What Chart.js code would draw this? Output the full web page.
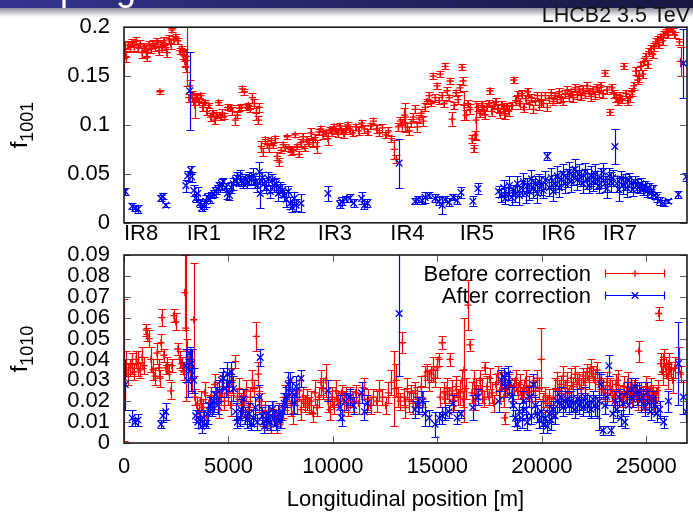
<!DOCTYPE html>
<html><head><meta charset="utf-8">
<script src="https://cdn.jsdelivr.net/npm/chart.js@4/dist/chart.umd.min.js"></script>
<style>
html,body{margin:0;padding:0;background:#fff;}
#wrap{position:relative;width:693px;height:513px;overflow:hidden;background:#fff;}
#top{position:absolute;left:0;top:0;}
#bot{position:absolute;left:0;top:225px;}
</style></head><body>
<div id="wrap"><canvas id="top" width="693" height="250"></canvas><canvas id="bot" width="693" height="288"></canvas></div>
<script>
// ---------- axis ticks / labels ----------
const xMax = 26950;
const xTicks = [0, 5000, 10000, 15000, 20000, 25000];
const xTickLabels = ['0', '5000', '10000', '15000', '20000', '25000'];
const topYTicks = [0, 0.05, 0.1, 0.15, 0.2];
const topYLabels = ['0', '0.05', '0.1', '0.15', '0.2'];
const botYTicks = [0, 0.01, 0.02, 0.03, 0.04, 0.05, 0.06, 0.07, 0.08, 0.09];
const botYLabels = ['0', '0.01', '0.02', '0.03', '0.04', '0.05', '0.06', '0.07', '0.08', '0.09'];
const irNames = ['IR8', 'IR1', 'IR2', 'IR3', 'IR4', 'IR5', 'IR6', 'IR7'];
const irPos = [0, 3000, 6100, 9280, 12750, 16070, 19970, 22920];
const seriesNames = ['Before correction', 'After correction'];
const xTitle = 'Longitudinal position [m]';
const plotTitle = 'LHCB2 3.5 TeV';

// ---------- before correction (red) ----------
const sBefore = [10,60,105,200,295,390,485,580,675,770,865,960,1055,1100,1200,1290,1390,1480,1580,1670,1720,1770,1815,1910,2005,2050,2150,2240,2290,2385,2480,2575,2670,2765,2810,2860,2910,2955,3000,3100,3150,3240,3335,3385,3480,3575,3670,3765,3860,3955,4050,4145,4240,4335,4430,4525,4620,4715,4810,4955,5100,5190,5335,5430,5525,5620,5670,5765,5860,5955,6050,6145,6240,6335,6430,6480,6575,6670,6765,6860,6955,7050,7145,7240,7335,7430,7525,7620,7715,7810,7905,8000,8095,8190,8285,8380,8475,8570,8665,8760,8855,8950,9045,9140,9235,9330,9425,9520,9665,9760,9855,9950,10045,10140,10235,10330,10420,10520,10610,10710,10800,10950,11090,11230,11370,11510,11660,11800,11940,12090,12230,12370,12520,12660,12800,12945,13040,13135,13230,13325,13420,13470,13565,13660,13755,13850,13945,14040,14135,14230,14325,14420,14515,14610,14705,14800,14895,14990,15085,15135,15230,15325,15375,15470,15565,15610,15705,15800,15895,15990,16085,16180,16230,16275,16370,16465,16560,16655,16750,16800,16845,16940,17035,17130,17225,17275,17370,17465,17510,17605,17700,17795,17890,17985,18080,18175,18220,18315,18410,18555,18650,18745,18840,18935,19030,19125,19220,19315,19410,19505,19600,19695,19790,19885,19980,20075,20170,20265,20360,20455,20550,20645,20740,20835,20930,21025,21120,21215,21310,21405,21500,21595,21690,21785,21880,21975,22070,22165,22260,22355,22450,22545,22640,22735,22830,22925,23020,23115,23260,23355,23450,23545,23640,23735,23830,23925,24020,24115,24210,24305,24400,24495,24590,24640,24735,24830,24880,24975,25070,25115,25210,25305,25355,25450,25545,25590,25685,25780,25830,25925,26020,26070,26165,26260,26355,26590,26640];
const f1001Before = [.168,.178,.170,.182,.180,.184,.181,.186,.179,.183,.174,.180,.176,.170,.182,.178,.183,.180,.185,.176,.134,.182,.180,.186,.179,.174,.188,.183,.197,.187,.190,.186,.176,.178,.172,.175,.165,.160,.170,.128,.140,.130,.124,.120,.128,.124,.130,.118,.123,.114,.120,.108,.112,.105,.110,.123,.108,.112,.109,.118,.117,.114,.105,.110,.117,.118,.137,.134,.118,.120,.116,.128,.122,.112,.105,.118,.078,.072,.085,.080,.076,.084,.079,.086,.068,.062,.074,.080,.077,.088,.076,.072,.074,.090,.078,.070,.082,.088,.076,.085,.082,.092,.082,.087,.078,.093,.096,.090,.092,.086,.095,.093,.098,.094,.092,.099,.094,.091,.096,.100,.095,.092,.098,.094,.102,.096,.093,.099,.104,.096,.092,.097,.090,.094,.086,.075,.065,.098,.104,.100,.110,.108,.098,.094,.102,.108,.116,.098,.106,.112,.104,.118,.124,.130,.122,.150,.128,.140,.125,.152,.130,.122,.160,.135,.128,.145,.106,.120,.133,.126,.138,.159,.145,.120,.110,.122,.116,.086,.076,.090,.105,.118,.112,.120,.115,.110,.118,.122,.135,.114,.120,.124,.117,.112,.121,.116,.110,.119,.114,.120,.146,.125,.130,.122,.132,.118,.127,.134,.121,.128,.116,.124,.130,.120,.126,.122,.130,.118,.127,.133,.124,.130,.126,.134,.128,.124,.132,.136,.129,.134,.128,.138,.131,.136,.130,.137,.132,.140,.134,.129,.136,.131,.138,.134,.140,.132,.153,.136,.113,.138,.132,.128,.124,.130,.126,.160,.132,.125,.128,.134,.140,.155,.146,.150,.160,.152,.165,.170,.162,.175,.178,.172,.180,.185,.188,.182,.190,.186,.193,.195,.192,.197,.198,.196,.192,.185,.165];
const f1001BeforeErr = [.018,.008,.006,.004,.005,.004,.005,.004,.004,.004,.005,.004,.006,.005,.004,.004,.004,.004,.004,.004,.002,.005,.005,.004,.004,.004,.004,.005,.002,.004,.003,.003,.003,.003,.005,.003,.006,.006,.030,.004,.006,.005,.004,.013,.004,.004,.003,.004,.003,.004,.003,.004,.003,.004,.003,.003,.003,.004,.003,.003,.003,.004,.005,.003,.003,.003,.003,.003,.003,.003,.003,.005,.005,.007,.004,.005,.006,.004,.003,.004,.004,.003,.003,.003,.004,.004,.003,.003,.004,.002,.003,.003,.004,.002,.003,.003,.004,.004,.003,.004,.003,.005,.004,.004,.007,.003,.003,.004,.003,.006,.003,.004,.003,.003,.004,.003,.003,.004,.003,.003,.004,.003,.003,.004,.003,.004,.003,.003,.003,.004,.003,.004,.003,.004,.003,.010,.004,.004,.004,.006,.007,.015,.004,.004,.004,.004,.004,.005,.004,.004,.005,.004,.003,.004,.003,.003,.004,.003,.004,.003,.004,.004,.003,.004,.003,.003,.007,.004,.003,.005,.004,.003,.004,.015,.005,.004,.005,.004,.004,.004,.020,.004,.004,.005,.004,.004,.004,.004,.003,.005,.004,.004,.004,.005,.004,.004,.004,.004,.005,.004,.003,.005,.005,.006,.004,.005,.004,.004,.005,.004,.004,.004,.004,.005,.008,.004,.004,.004,.004,.004,.004,.003,.004,.004,.004,.004,.004,.004,.004,.003,.004,.004,.004,.004,.004,.004,.004,.004,.004,.004,.004,.004,.004,.005,.004,.004,.003,.004,.003,.004,.004,.004,.004,.004,.004,.003,.004,.005,.004,.004,.004,.004,.004,.006,.004,.004,.004,.004,.004,.004,.004,.004,.004,.004,.003,.003,.003,.004,.003,.003,.003,.002,.002,.003,.003,.003,.015];
const f1010Before = [.035,.030,.038,.033,.036,.038,.034,.040,.038,.035,.041,.037,.054,.052,.050,.040,.035,.032,.043,.036,.031,.048,.060,.042,.036,.037,.034,.025,.037,.061,.058,.045,.040,.038,.036,.034,.072,.055,.044,.040,.035,.030,.059,.022,.018,.015,.020,.017,.024,.013,.019,.022,.018,.028,.024,.016,.022,.027,.020,.024,.018,.030,.039,.022,.026,.020,.018,.022,.025,.016,.022,.030,.026,.051,.033,.020,.018,.012,.015,.010,.013,.008,.016,.012,.009,.014,.011,.017,.022,.019,.025,.018,.014,.022,.020,.025,.016,.022,.019,.021,.018,.020,.014,.024,.017,.022,.029,.026,.030,.020,.016,.022,.018,.025,.021,.019,.024,.020,.023,.018,.022,.020,.024,.019,.023,.026,.021,.018,.022,.020,.025,.022,.018,.024,.029,.026,.030,.022,.020,.048,.022,.017,.026,.020,.024,.019,.025,.022,.018,.027,.021,.032,.034,.030,.033,.035,.031,.036,.040,.022,.048,.024,.021,.026,.023,.040,.025,.020,.027,.022,.024,.030,.021,.035,.026,.066,.047,.024,.029,.020,.026,.023,.030,.025,.021,.036,.027,.022,.031,.024,.019,.028,.033,.025,.030,.022,.012,.026,.028,.024,.027,.030,.025,.028,.023,.026,.030,.024,.027,.022,.029,.025,.031,.026,.040,.020,.022,.019,.021,.018,.022,.026,.030,.025,.028,.032,.026,.029,.024,.031,.027,.033,.028,.030,.026,.032,.029,.034,.031,.036,.033,.030,.035,.028,.030,.026,.024,.029,.027,.025,.022,.028,.030,.024,.021,.027,.023,.029,.025,.022,.026,.024,.021,.044,.025,.022,.020,.027,.023,.021,.026,.024,.020,.023,.025,.062,.038,.034,.041,.036,.032,.038,.035,.030,.036,.040,.033];
const f1010BeforeErr = [.034,.010,.006,.005,.004,.005,.004,.004,.006,.004,.005,.004,.003,.003,.004,.006,.005,.004,.005,.004,.004,.004,.004,.003,.003,.004,.004,.004,.003,.003,.004,.003,.004,.003,.003,.004,.018,.035,.006,.004,.005,.006,.027,.004,.004,.004,.005,.004,.005,.004,.004,.005,.004,.005,.005,.004,.004,.005,.004,.006,.005,.006,.003,.004,.005,.004,.005,.004,.005,.004,.005,.005,.004,.007,.006,.005,.006,.004,.005,.004,.005,.003,.004,.004,.004,.005,.004,.005,.006,.005,.005,.005,.005,.004,.006,.005,.005,.005,.004,.005,.004,.005,.004,.006,.004,.005,.006,.005,.008,.005,.005,.005,.004,.005,.004,.005,.004,.005,.004,.005,.005,.005,.004,.005,.004,.005,.005,.004,.004,.005,.005,.004,.004,.005,.006,.018,.008,.005,.004,.005,.004,.005,.005,.005,.004,.005,.004,.005,.004,.005,.004,.005,.004,.005,.004,.006,.004,.005,.003,.005,.003,.005,.004,.005,.004,.003,.005,.004,.005,.004,.006,.005,.004,.025,.005,.012,.003,.005,.006,.004,.005,.005,.005,.006,.004,.003,.005,.004,.005,.005,.004,.005,.004,.005,.004,.005,.003,.004,.005,.004,.004,.005,.004,.005,.004,.004,.005,.004,.005,.005,.004,.005,.004,.005,.015,.004,.005,.004,.005,.004,.004,.005,.004,.005,.004,.005,.004,.005,.004,.005,.004,.004,.005,.004,.005,.004,.005,.004,.005,.004,.004,.005,.004,.005,.004,.005,.004,.005,.004,.005,.004,.005,.005,.004,.004,.005,.004,.005,.004,.005,.004,.004,.005,.005,.004,.005,.004,.005,.004,.004,.005,.004,.005,.004,.005,.003,.005,.006,.004,.005,.006,.005,.004,.006,.005,.006,.004];

// ---------- after correction (blue) ----------
const sAfter = [60,390,530,670,1770,1860,2000,2960,3050,3140,3190,3240,3340,3430,3530,3620,3720,3810,3910,4000,4100,4190,4290,4380,4480,4570,4670,4760,4860,4950,5050,5140,5240,5340,5430,5530,5620,5720,5810,5910,6000,6100,6190,6290,6380,6480,6520,6620,6720,6810,6910,7000,7100,7200,7290,7390,7480,7580,7670,7770,7860,7960,8050,8150,8240,8470,9760,10330,10420,10610,10800,10990,11370,11510,11650,13170,13930,14080,14270,14410,14600,14890,15080,15230,15370,15560,15750,15940,16130,16700,16940,17930,18070,18170,18260,18360,18450,18550,18640,18740,18830,18930,19030,19120,19220,19310,19410,19500,19600,19690,19790,19880,19980,20070,20170,20260,20360,20450,20550,20640,20740,20830,20930,21020,21120,21210,21310,21400,21500,21590,21690,21780,21880,21980,22070,22170,22260,22360,22450,22550,22640,22740,22830,22930,23020,23120,23210,23310,23400,23500,23590,23690,23780,23880,23970,24070,24160,24260,24350,24450,24540,24640,24730,24830,24920,25020,25110,25210,25300,25400,25500,25640,25830,26060,26540,26780,26920];
const f1001After = [.032,.017,.015,.014,.025,.027,.018,.038,.048,.135,.054,.047,.033,.025,.030,.020,.015,.018,.022,.026,.024,.028,.030,.033,.035,.038,.040,.042,.036,.030,.028,.036,.040,.044,.046,.048,.043,.040,.045,.041,.046,.044,.048,.042,.038,.052,.030,.046,.040,.036,.045,.032,.044,.038,.040,.030,.036,.033,.028,.024,.032,.020,.016,.025,.018,.020,.030,.019,.022,.024,.025,.020,.025,.018,.020,.061,.022,.024,.023,.026,.028,.025,.022,.018,.024,.021,.026,.023,.031,.022,.035,.032,.028,.036,.025,.030,.038,.026,.033,.030,.040,.028,.035,.042,.030,.038,.032,.045,.035,.040,.030,.042,.038,.033,.044,.068,.036,.046,.032,.040,.048,.036,.044,.050,.040,.046,.052,.042,.048,.055,.044,.050,.046,.040,.052,.045,.038,.048,.042,.050,.044,.038,.046,.052,.040,.035,.048,.042,.046,.078,.040,.034,.045,.038,.042,.036,.044,.040,.034,.042,.038,.036,.040,.034,.038,.032,.036,.030,.034,.028,.026,.022,.020,.022,.029,.163,.047];
const f1001AfterErr = [.004,.003,.003,.004,.003,.003,.002,.006,.005,.040,.004,.005,.006,.004,.007,.004,.003,.004,.006,.004,.004,.003,.004,.004,.004,.004,.005,.004,.005,.006,.005,.006,.006,.005,.006,.006,.005,.004,.005,.005,.006,.005,.008,.006,.007,.010,.015,.006,.006,.006,.007,.007,.006,.007,.006,.008,.006,.007,.006,.008,.006,.006,.005,.006,.006,.009,.008,.004,.004,.003,.004,.004,.006,.004,.004,.025,.003,.003,.004,.006,.003,.004,.004,.009,.003,.004,.003,.004,.006,.005,.006,.006,.007,.008,.006,.007,.010,.008,.006,.009,.008,.010,.008,.009,.010,.008,.009,.009,.010,.008,.010,.008,.010,.008,.009,.004,.009,.010,.010,.009,.010,.010,.009,.010,.010,.009,.010,.010,.009,.010,.010,.010,.008,.010,.009,.010,.008,.010,.009,.010,.009,.008,.010,.009,.008,.010,.008,.010,.008,.018,.008,.012,.008,.009,.008,.010,.007,.008,.007,.006,.007,.006,.006,.006,.005,.006,.005,.005,.005,.004,.005,.004,.003,.002,.004,.035,.004];
const f1010After = [.028,.012,.010,.011,.009,.013,.015,.037,.030,.043,.035,.038,.030,.013,.010,.011,.008,.012,.009,.014,.018,.016,.020,.023,.018,.025,.030,.031,.026,.033,.029,.034,.026,.015,.010,.012,.016,.021,.013,.011,.014,.009,.012,.017,.010,.022,.041,.013,.008,.011,.014,.010,.016,.012,.009,.014,.011,.015,.019,.022,.028,.030,.024,.019,.027,.031,.025,.017,.012,.020,.022,.018,.024,.015,.019,.062,.016,.018,.020,.014,.012,.009,.012,.013,.014,.015,.019,.012,.014,.017,.022,.020,.030,.032,.027,.033,.029,.022,.018,.012,.009,.015,.012,.020,.016,.010,.022,.013,.028,.018,.014,.011,.015,.009,.012,.008,.014,.011,.016,.013,.020,.019,.022,.017,.020,.021,.018,.020,.019,.016,.021,.018,.020,.017,.022,.019,.018,.016,.021,.018,.017,.020,.028,.006,.018,.022,.037,.006,.014,.020,.016,.022,.012,.019,.010,.024,.018,.026,.021,.027,.023,.025,.020,.022,.017,.024,.019,.015,.021,.018,.014,.016,.010,.020,.038,.022,.015];
const f1010AfterErr = [.012,.004,.002,.003,.002,.003,.004,.008,.008,.003,.010,.007,.006,.003,.003,.004,.003,.004,.002,.005,.004,.003,.005,.004,.004,.005,.004,.005,.004,.006,.004,.005,.006,.004,.003,.004,.005,.005,.004,.004,.005,.003,.004,.005,.004,.006,.004,.004,.003,.004,.004,.004,.004,.004,.003,.004,.004,.004,.005,.005,.006,.004,.005,.005,.005,.004,.005,.006,.004,.004,.004,.004,.005,.004,.004,.030,.004,.004,.005,.006,.004,.006,.003,.004,.003,.003,.004,.003,.002,.006,.004,.005,.005,.004,.005,.004,.005,.005,.005,.004,.003,.004,.005,.005,.004,.004,.005,.004,.005,.004,.004,.004,.005,.004,.004,.003,.004,.005,.004,.004,.005,.004,.005,.004,.005,.004,.004,.005,.004,.004,.005,.004,.004,.004,.005,.004,.005,.004,.004,.005,.005,.014,.005,.002,.004,.004,.005,.002,.004,.005,.004,.004,.004,.005,.003,.005,.004,.005,.004,.004,.005,.004,.005,.004,.004,.005,.004,.004,.004,.004,.004,.004,.003,.005,.020,.008,.005];

// ---------- styling ----------
const FONT = "'Liberation Sans', Arial, Helvetica, sans-serif";
const FS = 22;
const RED = '#ff0000', BLUE = '#0000ff';
Chart.defaults.font.family = FONT;
Chart.defaults.font.size = FS;
Chart.defaults.color = '#000';

function pts(xs, ys) { return xs.map((x, i) => ({ x: x, y: ys[i] })); }

const errorBarPlugin = {
  id: 'errbars',
  beforeDatasetDraw(chart, args) {
    const ds = chart.data.datasets[args.index];
    if (!ds.errors) return;
    const ctx = chart.ctx, xs = chart.scales.x, ys = chart.scales.y, a = chart.chartArea;
    ctx.save();
    ctx.beginPath(); ctx.rect(a.left, a.top, a.right - a.left, a.bottom - a.top); ctx.clip();
    ctx.strokeStyle = ds.borderColor; ctx.lineWidth = 1.2;
    ctx.beginPath();
    ds.data.forEach((p, i) => {
      const e = ds.errors[i];
      const px = Math.round(xs.getPixelForValue(p.x)) + 0.5;
      const y1 = Math.round(ys.getPixelForValue(p.y - e)) + 0.5;
      const y2 = Math.round(ys.getPixelForValue(p.y + e)) + 0.5;
      ctx.moveTo(px, y1); ctx.lineTo(px, y2);
      ctx.moveTo(px - 4, y1); ctx.lineTo(px + 4, y1);
      ctx.moveTo(px - 4, y2); ctx.lineTo(px + 4, y2);
    });
    ctx.stroke();
    ctx.restore();
  }
};

function drawYLabel(ctx, cx, cy, main, sub) {
  ctx.save();
  ctx.translate(cx, cy); ctx.rotate(-Math.PI / 2);
  ctx.fillStyle = '#000'; ctx.textAlign = 'left'; ctx.textBaseline = 'alphabetic';
  ctx.font = '24px ' + FONT; const w1 = ctx.measureText(main).width;
  ctx.font = '18px ' + FONT; const w2 = ctx.measureText(sub).width;
  const x0 = -(w1 + w2) / 2;
  ctx.font = '24px ' + FONT; ctx.fillText(main, x0, 0);
  ctx.font = '18px ' + FONT; ctx.fillText(sub, x0 + w1, 6);
  ctx.restore();
}

function framePlugin(cfg) {
  return {
    id: 'frame' + cfg.name,
    afterDraw(chart) {
      const ctx = chart.ctx, a = chart.chartArea, xs = chart.scales.x, ys = chart.scales.y;
      ctx.save();
      ctx.strokeStyle = '#606060'; ctx.lineWidth = 1;
      ctx.beginPath();
      cfg.yTicks.forEach(v => {
        const py = Math.round(ys.getPixelForValue(v)) + 0.5;
        ctx.moveTo(a.left, py); ctx.lineTo(a.left + 7, py);
        ctx.moveTo(a.right, py); ctx.lineTo(a.right - 7, py);
      });
      if (cfg.xTicks) cfg.xTicks.forEach(v => {
        const px = Math.round(xs.getPixelForValue(v)) + 0.5;
        ctx.moveTo(px, a.bottom); ctx.lineTo(px, a.bottom - 7);
        ctx.moveTo(px, a.top); ctx.lineTo(px, a.top + 7);
      });
      ctx.stroke();
      ctx.strokeStyle = '#1a1a1a'; ctx.lineWidth = 1.6;
      ctx.strokeRect(a.left, a.top, a.right - a.left, a.bottom - a.top);
      drawYLabel(ctx, 27, (a.top + a.bottom) / 2, 'f', cfg.sub);
      if (cfg.extra) cfg.extra(chart, ctx, a, xs, ys);
      ctx.restore();
    }
  };
}

function topExtras(chart, ctx, a, xs) {
  // cropped slide header band
  const g = ctx.createLinearGradient(0, 0, 693, 0);
  g.addColorStop(0, '#34348e'); g.addColorStop(1, '#16163f');
  ctx.fillStyle = g; ctx.fillRect(0, 0, 693, 8);
  const g2 = ctx.createLinearGradient(0, 8, 0, 17);
  g2.addColorStop(0, '#8e8e9c'); g2.addColorStop(1, '#ffffff');
  ctx.fillStyle = g2; ctx.fillRect(0, 8, 693, 9);
  ctx.save();
  ctx.beginPath(); ctx.rect(0, 0, 693, 8); ctx.clip();
  ctx.fillStyle = '#ffffff'; ctx.font = '36px ' + FONT; ctx.textAlign = 'left'; ctx.textBaseline = 'alphabetic';
  ctx.fillText('Coupling', -6, -0.5);
  ctx.restore();
  ctx.fillStyle = '#111'; ctx.font = '21.5px ' + FONT; ctx.textAlign = 'right'; ctx.textBaseline = 'alphabetic';
  ctx.fillText(plotTitle, 690, 22);
  // IR labels
  ctx.font = FS + 'px ' + FONT;
  ctx.fillStyle = '#000'; ctx.textAlign = 'left';
  irNames.forEach((n, i) => ctx.fillText(n, xs.getPixelForValue(irPos[i]), a.bottom + 17));
}

function drawSample(ctx, x1, x2, y, color, style) {
  ctx.strokeStyle = color; ctx.lineWidth = 1.2;
  ctx.beginPath();
  ctx.moveTo(x1, y); ctx.lineTo(x2, y);
  ctx.moveTo(x1 + 0.5, y - 4); ctx.lineTo(x1 + 0.5, y + 4);
  ctx.moveTo(x2 - 0.5, y - 4); ctx.lineTo(x2 - 0.5, y + 4);
  ctx.stroke();
  const cx = (x1 + x2) / 2;
  ctx.lineWidth = 1.3; ctx.beginPath();
  if (style === 'cross') { ctx.moveTo(cx - 3.5, y); ctx.lineTo(cx + 3.5, y); ctx.moveTo(cx, y - 3.5); ctx.lineTo(cx, y + 3.5); }
  else { ctx.moveTo(cx - 3.3, y - 3.3); ctx.lineTo(cx + 3.3, y + 3.3); ctx.moveTo(cx - 3.3, y + 3.3); ctx.lineTo(cx + 3.3, y - 3.3); }
  ctx.stroke();
}

function botExtras(chart, ctx, a) {
  const rows = [a.top + 18.5, a.top + 40.5];
  ctx.font = FS + 'px ' + FONT; ctx.fillStyle = '#000'; ctx.textAlign = 'right'; ctx.textBaseline = 'middle';
  chart.data.datasets.forEach((ds, i) => {
    ctx.fillText(ds.label, 591, rows[i] + 1);
    drawSample(ctx, 605, 665, rows[i], ds.borderColor, ds.pointStyle);
  });
}

function makeDatasets(yBefore, eBefore, yAfter, eAfter) {
  return [
    { label: seriesNames[0], data: pts(sBefore, yBefore), errors: eBefore, borderColor: RED, backgroundColor: RED,
      pointStyle: 'cross', pointRadius: 3.6, pointBorderWidth: 1.3, order: 2 },
    { label: seriesNames[1], data: pts(sAfter, yAfter), errors: eAfter, borderColor: BLUE, backgroundColor: BLUE,
      pointStyle: 'crossRot', pointRadius: 4.7, pointBorderWidth: 1.3, order: 1 }
  ];
}

function yScale(min, max, tickVals, tickLabels) {
  return {
    type: 'linear', min: min, max: max,
    afterFit(s) { s.width = 124; },
    afterBuildTicks(s) { s.ticks = tickVals.map(v => ({ value: v })); },
    ticks: { callback: (v, i) => tickLabels[i], padding: 14, autoSkip: false, font: { size: FS } },
    grid: { display: false, drawTicks: false },
    border: { display: false }
  };
}

new Chart(document.getElementById('top'), {
  type: 'scatter',
  data: { datasets: makeDatasets(f1001Before, f1001BeforeErr, f1001After, f1001AfterErr) },
  options: {
    responsive: false, animation: false, events: [], devicePixelRatio: 1,
    layout: { padding: { top: 24, right: 1, bottom: 23, left: 0 } },
    plugins: { legend: { display: false }, tooltip: { enabled: false } },
    scales: {
      x: { type: 'linear', min: 0, max: xMax, display: false },
      y: yScale(0, 0.2, topYTicks, topYLabels)
    }
  },
  plugins: [errorBarPlugin, framePlugin({ name: 'top', yTicks: topYTicks, sub: '1001', extra: topExtras })]
});

new Chart(document.getElementById('bot'), {
  type: 'scatter',
  data: { datasets: makeDatasets(f1010Before, f1010BeforeErr, f1010After, f1010AfterErr) },
  options: {
    responsive: false, animation: false, events: [], devicePixelRatio: 1,
    layout: { padding: { top: 30, right: 1, bottom: 0, left: 0 } },
    plugins: { legend: { display: false }, tooltip: { enabled: false } },
    scales: {
      x: {
        type: 'linear', min: 0, max: xMax, position: 'bottom',
        afterFit(s) { s.height = 70; },
        afterBuildTicks(s) { s.ticks = xTicks.map(v => ({ value: v })); },
        ticks: { callback: (v, i) => xTickLabels[i], padding: 11, autoSkip: false, maxRotation: 0, font: { size: FS } },
        grid: { display: false, drawTicks: false },
        border: { display: false },
        title: { display: true, text: xTitle, font: { size: FS }, padding: { top: 0, bottom: 0 } }
      },
      y: yScale(0, 0.09, botYTicks, botYLabels)
    }
  },
  plugins: [errorBarPlugin, framePlugin({ name: 'bot', yTicks: botYTicks, xTicks: xTicks, sub: '1010', extra: botExtras })]
});
</script>
</body></html>
